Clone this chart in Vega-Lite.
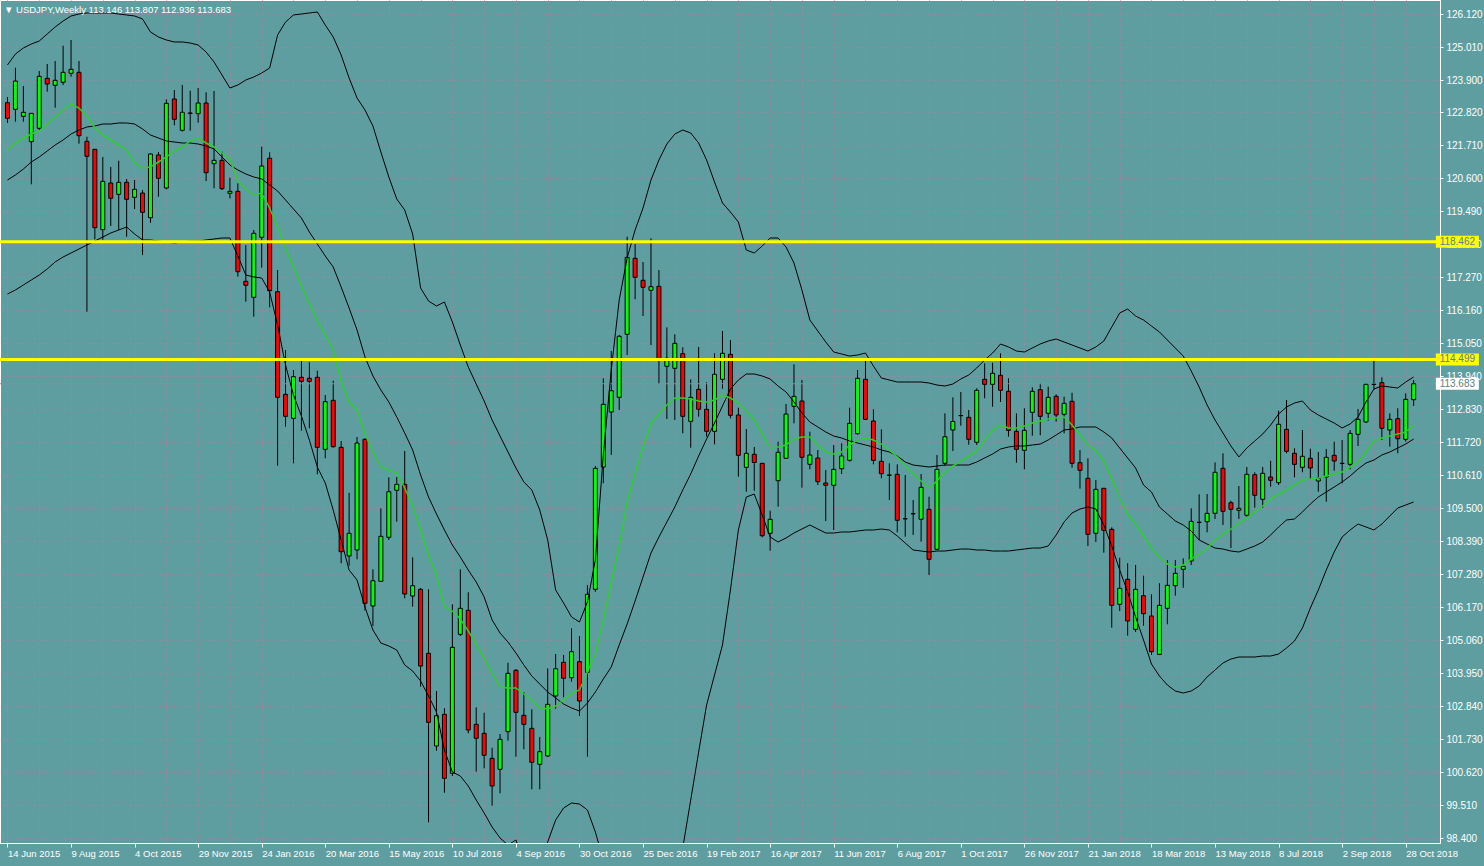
{
  "$schema": "https://vega.github.io/schema/vega-lite/v6.json",
  "width": 1440,
  "height": 843,
  "autosize": "none",
  "padding": {"left": 0, "top": 0, "right": 44, "bottom": 23},
  "background": "#5F9EA0",
  "title": {"text": "▼ USDJPY,Weekly  113.146 113.807 112.936 113.683", "anchor": "start", "frame": "group", "offset": -14, "dx": 4, "color": "#FFFFFF", "font": "Liberation Sans", "fontSize": 9.5, "fontWeight": "normal"},
  "config": {
    "view": {"stroke": "#FFFFFF", "strokeWidth": 1},
    "axis": {"labelFont": "Liberation Sans", "labelFontSize": 10, "labelColor": "#FFFFFF", "domainColor": "#FFFFFF", "tickColor": "#FFFFFF", "gridColor": "#8E8CA0", "gridDash": [3, 3], "gridWidth": 1, "gridOpacity": 1, "labelOverlap": false}
  },
  "datasets": {
    "levels": [
      {"p": 118.462, "t": "118.462", "k": "level"},
      {"p": 114.499, "t": "114.499", "k": "level"},
      {"p": 113.683, "t": "113.683", "k": "bid"}
    ],
    "candles": [
{"d":"2015-06-14","o":123.136,"h":123.329,"l":122.454,"c":122.612,"u":124.405,"m":120.536,"b":116.702,"g":121.546},
{"d":"2015-06-21","o":122.914,"h":124.314,"l":122.498,"c":123.866,"u":124.774,"m":120.705,"b":116.837,"g":121.781},
{"d":"2015-06-28","o":122.679,"h":123.698,"l":122.498,"c":122.814,"u":124.977,"m":120.906,"b":117.005,"g":121.949},
{"d":"2015-07-05","o":121.825,"h":122.790,"l":120.391,"c":122.780,"u":125.111,"m":121.142,"b":117.173,"g":122.083},
{"d":"2015-07-12","o":122.276,"h":124.202,"l":122.218,"c":124.024,"u":125.212,"m":121.311,"b":117.341,"g":122.184},
{"d":"2015-07-19","o":123.957,"h":124.438,"l":123.507,"c":123.765,"u":125.447,"m":121.512,"b":117.543,"g":122.420},
{"d":"2015-07-26","o":123.722,"h":124.539,"l":122.968,"c":123.890,"u":125.683,"m":121.714,"b":117.779,"g":122.656},
{"d":"2015-08-02","o":123.823,"h":125.054,"l":123.732,"c":124.159,"u":125.884,"m":121.882,"b":117.947,"g":122.891},
{"d":"2015-08-09","o":124.125,"h":125.246,"l":124.011,"c":124.260,"u":126.053,"m":122.083,"b":118.081,"g":123.092},
{"d":"2015-08-16","o":124.159,"h":124.539,"l":121.758,"c":122.026,"u":126.120,"m":122.218,"b":118.215,"g":122.958},
{"d":"2015-08-23","o":121.838,"h":121.993,"l":116.107,"c":121.334,"u":126.154,"m":122.320,"b":118.350,"g":122.689},
{"d":"2015-08-30","o":121.569,"h":121.579,"l":118.542,"c":118.932,"u":126.154,"m":122.353,"b":118.484,"g":122.286},
{"d":"2015-09-06","o":118.865,"h":121.311,"l":118.529,"c":120.492,"u":126.154,"m":122.420,"b":118.620,"g":122.050},
{"d":"2015-09-13","o":120.435,"h":120.974,"l":118.989,"c":119.921,"u":126.154,"m":122.420,"b":118.754,"g":121.882},
{"d":"2015-09-20","o":120.055,"h":121.185,"l":118.855,"c":120.459,"u":126.120,"m":122.454,"b":118.855,"g":121.714},
{"d":"2015-09-27","o":120.459,"h":120.570,"l":118.630,"c":119.887,"u":126.087,"m":122.454,"b":118.956,"g":121.546},
{"d":"2015-10-04","o":119.954,"h":120.536,"l":119.561,"c":120.223,"u":126.053,"m":122.420,"b":118.720,"g":121.108},
{"d":"2015-10-11","o":120.099,"h":120.200,"l":118.014,"c":119.450,"u":125.952,"m":122.252,"b":118.518,"g":120.940},
{"d":"2015-10-18","o":119.268,"h":121.435,"l":119.100,"c":121.411,"u":125.515,"m":122.050,"b":118.518,"g":120.974},
{"d":"2015-10-25","o":121.378,"h":121.479,"l":119.975,"c":120.594,"u":125.347,"m":121.949,"b":118.484,"g":121.142},
{"d":"2015-11-01","o":120.267,"h":123.251,"l":120.223,"c":123.116,"u":125.246,"m":121.848,"b":118.451,"g":121.311},
{"d":"2015-11-08","o":123.261,"h":123.564,"l":122.377,"c":122.578,"u":125.179,"m":121.815,"b":118.417,"g":121.512},
{"d":"2015-11-15","o":122.208,"h":123.732,"l":122.161,"c":122.814,"u":125.179,"m":121.781,"b":118.451,"g":121.647},
{"d":"2015-11-22","o":122.790,"h":123.540,"l":122.194,"c":122.780,"u":125.145,"m":121.781,"b":118.484,"g":121.848},
{"d":"2015-11-29","o":122.767,"h":123.631,"l":122.464,"c":123.126,"u":125.078,"m":121.747,"b":118.484,"g":121.949},
{"d":"2015-12-06","o":123.126,"h":123.487,"l":120.502,"c":120.782,"u":124.842,"m":121.680,"b":118.518,"g":121.781},
{"d":"2015-12-13","o":121.085,"h":123.530,"l":120.257,"c":121.199,"u":124.506,"m":121.579,"b":118.552,"g":121.647},
{"d":"2015-12-20","o":121.199,"h":121.489,"l":120.200,"c":120.243,"u":124.068,"m":121.311,"b":118.586,"g":121.445},
{"d":"2015-12-27","o":120.089,"h":120.614,"l":119.921,"c":120.156,"u":123.631,"m":121.041,"b":118.586,"g":121.243},
{"d":"2016-01-03","o":120.156,"h":120.425,"l":117.284,"c":117.452,"u":123.732,"m":120.873,"b":117.980,"g":120.502},
{"d":"2016-01-10","o":117.129,"h":118.350,"l":116.443,"c":116.995,"u":123.900,"m":120.738,"b":117.341,"g":120.233},
{"d":"2016-01-17","o":116.591,"h":118.855,"l":115.939,"c":118.744,"u":124.001,"m":120.638,"b":117.274,"g":120.032},
{"d":"2016-01-24","o":118.609,"h":121.657,"l":117.587,"c":121.007,"u":124.135,"m":120.570,"b":117.240,"g":120.099},
{"d":"2016-01-31","o":121.267,"h":121.469,"l":116.254,"c":116.813,"u":124.304,"m":120.368,"b":116.770,"g":119.595},
{"d":"2016-02-07","o":116.780,"h":117.509,"l":110.926,"c":113.227,"u":125.414,"m":120.166,"b":115.659,"g":118.956},
{"d":"2016-02-14","o":113.328,"h":114.818,"l":112.239,"c":112.588,"u":125.851,"m":119.864,"b":114.314,"g":118.249},
{"d":"2016-02-21","o":112.521,"h":114.146,"l":111.007,"c":113.921,"u":126.087,"m":119.561,"b":113.305,"g":117.611},
{"d":"2016-02-28","o":113.900,"h":114.515,"l":112.103,"c":113.765,"u":126.120,"m":119.258,"b":112.598,"g":116.971},
{"d":"2016-03-06","o":113.867,"h":114.405,"l":112.185,"c":113.765,"u":126.154,"m":118.788,"b":111.791,"g":116.365},
{"d":"2016-03-13","o":113.900,"h":114.122,"l":110.637,"c":111.545,"u":126.188,"m":118.383,"b":110.883,"g":115.793},
{"d":"2016-03-20","o":111.478,"h":113.305,"l":111.176,"c":113.080,"u":125.750,"m":117.980,"b":110.345,"g":115.323},
{"d":"2016-03-27","o":113.127,"h":113.785,"l":111.532,"c":111.566,"u":125.347,"m":117.611,"b":109.437,"g":114.818},
{"d":"2016-04-03","o":111.545,"h":111.757,"l":107.644,"c":108.034,"u":124.741,"m":116.938,"b":108.427,"g":113.775},
{"d":"2016-04-10","o":107.889,"h":110.018,"l":107.563,"c":108.653,"u":123.967,"m":116.231,"b":107.418,"g":113.070},
{"d":"2016-04-17","o":108.091,"h":111.892,"l":107.778,"c":111.690,"u":123.295,"m":115.491,"b":107.082,"g":112.800},
{"d":"2016-04-24","o":111.814,"h":111.848,"l":106.049,"c":106.298,"u":122.891,"m":114.583,"b":106.174,"g":111.992},
{"d":"2016-05-01","o":106.207,"h":107.442,"l":105.535,"c":107.058,"u":122.353,"m":113.944,"b":105.400,"g":111.388},
{"d":"2016-05-08","o":107.038,"h":109.494,"l":107.015,"c":108.552,"u":121.479,"m":113.473,"b":104.963,"g":110.883},
{"d":"2016-05-15","o":108.518,"h":110.536,"l":108.427,"c":110.052,"u":120.638,"m":113.070,"b":104.862,"g":110.782},
{"d":"2016-05-22","o":110.099,"h":110.547,"l":109.043,"c":110.301,"u":119.897,"m":112.565,"b":104.727,"g":110.681},
{"d":"2016-05-29","o":110.301,"h":111.421,"l":106.467,"c":106.611,"u":119.527,"m":112.026,"b":104.223,"g":110.177},
{"d":"2016-06-05","o":106.544,"h":107.845,"l":106.184,"c":106.890,"u":118.720,"m":111.455,"b":104.021,"g":109.571},
{"d":"2016-06-12","o":106.769,"h":106.813,"l":103.493,"c":104.189,"u":116.904,"m":110.614,"b":103.684,"g":108.764},
{"d":"2016-06-19","o":104.616,"h":106.769,"l":98.932,"c":102.296,"u":116.466,"m":109.874,"b":103.180,"g":107.923},
{"d":"2016-06-26","o":101.498,"h":103.348,"l":101.340,"c":102.517,"u":116.298,"m":109.302,"b":102.642,"g":107.250},
{"d":"2016-07-03","o":102.564,"h":102.767,"l":99.927,"c":100.412,"u":116.433,"m":108.764,"b":101.364,"g":106.174},
{"d":"2016-07-10","o":100.580,"h":106.264,"l":100.489,"c":104.818,"u":115.760,"m":108.259,"b":100.624,"g":106.039},
{"d":"2016-07-17","o":105.255,"h":107.442,"l":105.198,"c":106.130,"u":114.987,"m":107.856,"b":100.489,"g":105.770},
{"d":"2016-07-24","o":106.063,"h":106.669,"l":101.926,"c":102.037,"u":114.247,"m":107.418,"b":100.153,"g":105.366},
{"d":"2016-07-31","o":102.228,"h":102.800,"l":100.634,"c":101.758,"u":113.674,"m":107.015,"b":99.682,"g":104.929},
{"d":"2016-08-07","o":101.926,"h":102.618,"l":100.748,"c":101.186,"u":113.103,"m":106.511,"b":99.245,"g":104.458},
{"d":"2016-08-14","o":101.085,"h":101.441,"l":99.490,"c":100.153,"u":112.464,"m":105.737,"b":98.774,"g":103.954},
{"d":"2016-08-21","o":100.714,"h":101.902,"l":99.907,"c":101.724,"u":111.925,"m":105.299,"b":98.404,"g":103.483},
{"d":"2016-08-28","o":101.980,"h":104.300,"l":101.676,"c":103.944,"u":111.388,"m":104.997,"b":98.169,"g":103.449},
{"d":"2016-09-04","o":104.045,"h":104.088,"l":101.139,"c":102.632,"u":110.849,"m":104.626,"b":98.337,"g":103.449},
{"d":"2016-09-11","o":102.531,"h":103.305,"l":101.387,"c":102.228,"u":110.379,"m":104.223,"b":97.597,"g":103.247},
{"d":"2016-09-18","o":102.094,"h":102.733,"l":100.042,"c":100.950,"u":110.109,"m":103.853,"b":97.328,"g":103.046},
{"d":"2016-09-25","o":100.882,"h":101.802,"l":100.042,"c":101.307,"u":109.437,"m":103.583,"b":97.597,"g":102.777},
{"d":"2016-10-02","o":101.162,"h":104.112,"l":101.128,"c":102.901,"u":108.427,"m":103.315,"b":98.270,"g":102.743},
{"d":"2016-10-09","o":103.180,"h":104.592,"l":102.753,"c":104.098,"u":106.746,"m":103.113,"b":99.009,"g":102.844},
{"d":"2016-10-16","o":104.314,"h":104.559,"l":103.136,"c":103.776,"u":106.308,"m":102.911,"b":99.413,"g":103.046},
{"d":"2016-10-23","o":103.796,"h":105.458,"l":103.661,"c":104.670,"u":105.838,"m":102.777,"b":99.581,"g":103.281},
{"d":"2016-10-30","o":104.334,"h":105.198,"l":102.507,"c":103.012,"u":105.670,"m":102.675,"b":99.547,"g":103.382},
{"d":"2016-11-06","o":103.978,"h":106.914,"l":101.139,"c":106.601,"u":106.342,"m":102.945,"b":99.346,"g":103.987},
{"d":"2016-11-13","o":106.769,"h":110.916,"l":106.689,"c":110.839,"u":107.755,"m":103.315,"b":98.606,"g":104.592},
{"d":"2016-11-20","o":110.883,"h":113.867,"l":110.335,"c":112.992,"u":111.287,"m":103.752,"b":97.664,"g":105.737},
{"d":"2016-11-27","o":112.733,"h":114.784,"l":111.287,"c":113.449,"u":114.146,"m":104.156,"b":96.655,"g":107.015},
{"d":"2016-12-04","o":113.227,"h":115.323,"l":112.800,"c":115.279,"u":116.500,"m":104.896,"b":95.477,"g":108.225},
{"d":"2016-12-11","o":115.346,"h":118.630,"l":114.650,"c":117.936,"u":117.913,"m":105.602,"b":94.636,"g":109.706},
{"d":"2016-12-18","o":117.903,"h":118.383,"l":116.524,"c":117.263,"u":118.855,"m":106.375,"b":93.964,"g":110.681},
{"d":"2016-12-25","o":117.163,"h":117.779,"l":115.962,"c":116.927,"u":119.595,"m":107.183,"b":93.627,"g":111.556},
{"d":"2017-01-01","o":116.827,"h":118.576,"l":114.987,"c":116.948,"u":120.536,"m":107.990,"b":93.796,"g":112.363},
{"d":"2017-01-08","o":116.961,"h":117.509,"l":113.674,"c":114.505,"u":121.209,"m":108.529,"b":94.468,"g":112.665},
{"d":"2017-01-15","o":114.270,"h":115.581,"l":112.497,"c":114.539,"u":121.747,"m":109.033,"b":95.645,"g":112.969},
{"d":"2017-01-22","o":114.203,"h":115.346,"l":112.464,"c":115.044,"u":122.083,"m":109.538,"b":96.823,"g":113.204},
{"d":"2017-01-29","o":114.694,"h":114.909,"l":112.016,"c":112.588,"u":122.218,"m":110.109,"b":98.068,"g":113.204},
{"d":"2017-02-05","o":112.420,"h":113.833,"l":111.532,"c":113.227,"u":122.117,"m":110.647,"b":99.682,"g":113.170},
{"d":"2017-02-12","o":113.496,"h":114.920,"l":112.575,"c":112.824,"u":121.781,"m":111.253,"b":101.297,"g":113.103},
{"d":"2017-02-19","o":112.824,"h":113.732,"l":111.902,"c":112.083,"u":121.209,"m":111.824,"b":102.878,"g":113.070},
{"d":"2017-02-26","o":112.083,"h":114.707,"l":111.646,"c":114.001,"u":120.469,"m":112.363,"b":103.887,"g":113.137},
{"d":"2017-03-05","o":113.833,"h":115.457,"l":113.516,"c":114.707,"u":119.763,"m":112.935,"b":104.896,"g":113.305},
{"d":"2017-03-12","o":114.673,"h":115.155,"l":112.521,"c":112.622,"u":119.460,"m":113.506,"b":106.746,"g":113.204},
{"d":"2017-03-19","o":112.632,"h":112.878,"l":110.557,"c":111.277,"u":119.124,"m":113.809,"b":108.764,"g":113.036},
{"d":"2017-03-26","o":110.872,"h":112.161,"l":110.052,"c":111.344,"u":118.182,"m":114.011,"b":109.874,"g":112.766},
{"d":"2017-04-02","o":111.310,"h":111.556,"l":110.085,"c":111.034,"u":118.081,"m":114.011,"b":109.974,"g":112.464},
{"d":"2017-04-09","o":111.007,"h":111.017,"l":108.518,"c":108.572,"u":118.316,"m":113.944,"b":109.269,"g":111.992},
{"d":"2017-04-16","o":108.653,"h":109.413,"l":108.067,"c":109.124,"u":118.586,"m":113.843,"b":108.529,"g":111.522},
{"d":"2017-04-23","o":110.422,"h":111.734,"l":109.548,"c":111.378,"u":118.586,"m":113.607,"b":108.360,"g":111.556},
{"d":"2017-04-30","o":111.176,"h":113.002,"l":111.152,"c":112.665,"u":118.283,"m":113.406,"b":108.495,"g":111.623},
{"d":"2017-05-07","o":112.925,"h":114.337,"l":112.353,"c":113.261,"u":117.745,"m":113.070,"b":108.663,"g":111.824},
{"d":"2017-05-14","o":113.103,"h":113.809,"l":110.187,"c":111.209,"u":116.837,"m":112.699,"b":108.797,"g":111.892},
{"d":"2017-05-21","o":110.973,"h":112.070,"l":110.805,"c":111.287,"u":115.827,"m":112.397,"b":108.932,"g":111.892},
{"d":"2017-05-28","o":111.186,"h":111.455,"l":110.278,"c":110.389,"u":115.457,"m":112.229,"b":108.797,"g":111.623},
{"d":"2017-06-04","o":110.345,"h":110.782,"l":109.066,"c":110.268,"u":115.088,"m":112.060,"b":108.663,"g":111.388},
{"d":"2017-06-11","o":110.268,"h":111.623,"l":108.764,"c":110.805,"u":114.751,"m":111.925,"b":108.663,"g":111.320},
{"d":"2017-06-18","o":110.825,"h":111.680,"l":110.647,"c":111.253,"u":114.684,"m":111.858,"b":108.697,"g":111.388},
{"d":"2017-06-25","o":111.108,"h":112.878,"l":111.061,"c":112.353,"u":114.616,"m":111.757,"b":108.697,"g":111.623},
{"d":"2017-07-02","o":112.003,"h":114.146,"l":111.976,"c":113.867,"u":114.650,"m":111.690,"b":108.730,"g":111.791},
{"d":"2017-07-09","o":113.833,"h":114.482,"l":112.464,"c":112.487,"u":114.717,"m":111.623,"b":108.764,"g":111.858},
{"d":"2017-07-16","o":112.430,"h":112.824,"l":110.973,"c":111.108,"u":114.280,"m":111.556,"b":108.764,"g":111.791},
{"d":"2017-07-23","o":111.074,"h":112.151,"l":110.503,"c":110.658,"u":113.877,"m":111.455,"b":108.797,"g":111.656},
{"d":"2017-07-30","o":110.614,"h":111.007,"l":109.773,"c":110.604,"u":113.809,"m":111.388,"b":108.764,"g":111.455},
{"d":"2017-08-06","o":110.637,"h":110.973,"l":108.687,"c":109.090,"u":113.742,"m":111.253,"b":108.562,"g":111.220},
{"d":"2017-08-13","o":109.144,"h":110.614,"l":108.539,"c":109.137,"u":113.742,"m":111.051,"b":108.326,"g":110.916},
{"d":"2017-08-20","o":109.306,"h":109.773,"l":108.596,"c":109.316,"u":113.742,"m":110.950,"b":108.091,"g":110.647},
{"d":"2017-08-27","o":109.124,"h":110.647,"l":108.370,"c":110.200,"u":113.742,"m":110.916,"b":108.057,"g":110.412},
{"d":"2017-09-03","o":109.460,"h":109.884,"l":107.250,"c":107.778,"u":113.708,"m":110.883,"b":108.024,"g":110.177},
{"d":"2017-09-10","o":108.114,"h":111.287,"l":108.091,"c":110.805,"u":113.641,"m":110.916,"b":108.057,"g":110.412},
{"d":"2017-09-17","o":111.007,"h":112.689,"l":110.916,"c":111.902,"u":113.607,"m":110.950,"b":108.057,"g":110.714},
{"d":"2017-09-24","o":112.127,"h":113.227,"l":111.421,"c":112.414,"u":113.674,"m":110.950,"b":108.091,"g":110.916},
{"d":"2017-10-01","o":112.608,"h":113.406,"l":112.272,"c":112.615,"u":113.843,"m":110.950,"b":108.124,"g":111.084},
{"d":"2017-10-08","o":112.554,"h":112.800,"l":111.633,"c":111.814,"u":113.978,"m":110.950,"b":108.124,"g":111.253},
{"d":"2017-10-15","o":111.714,"h":113.530,"l":111.623,"c":113.463,"u":114.213,"m":111.051,"b":108.091,"g":111.421},
{"d":"2017-10-22","o":113.833,"h":114.371,"l":113.194,"c":113.664,"u":114.482,"m":111.186,"b":108.091,"g":111.791},
{"d":"2017-10-29","o":113.664,"h":114.391,"l":112.912,"c":114.035,"u":114.717,"m":111.320,"b":108.057,"g":112.127},
{"d":"2017-11-05","o":113.968,"h":114.707,"l":113.070,"c":113.463,"u":115.020,"m":111.488,"b":108.057,"g":112.296},
{"d":"2017-11-12","o":113.429,"h":113.867,"l":111.902,"c":112.117,"u":114.920,"m":111.556,"b":108.057,"g":112.195},
{"d":"2017-11-19","o":112.083,"h":112.689,"l":111.027,"c":111.478,"u":114.784,"m":111.589,"b":108.091,"g":112.195},
{"d":"2017-11-26","o":111.445,"h":112.858,"l":110.805,"c":112.117,"u":114.751,"m":111.589,"b":108.124,"g":112.262},
{"d":"2017-12-03","o":112.723,"h":113.563,"l":111.935,"c":113.429,"u":114.886,"m":111.623,"b":108.158,"g":112.363},
{"d":"2017-12-10","o":113.483,"h":113.698,"l":111.949,"c":112.588,"u":115.020,"m":111.656,"b":108.158,"g":112.430},
{"d":"2017-12-17","o":112.689,"h":113.584,"l":112.440,"c":113.227,"u":115.121,"m":111.791,"b":108.225,"g":112.497},
{"d":"2017-12-24","o":113.261,"h":113.328,"l":112.407,"c":112.632,"u":115.188,"m":111.959,"b":108.596,"g":112.531},
{"d":"2017-12-31","o":112.655,"h":113.248,"l":112.016,"c":113.026,"u":115.088,"m":112.127,"b":109.033,"g":112.565},
{"d":"2018-01-07","o":113.093,"h":113.382,"l":110.859,"c":111.007,"u":114.987,"m":112.161,"b":109.336,"g":112.296},
{"d":"2018-01-14","o":111.027,"h":111.455,"l":110.153,"c":110.772,"u":114.886,"m":112.229,"b":109.470,"g":111.959},
{"d":"2018-01-21","o":110.503,"h":111.176,"l":108.225,"c":108.619,"u":114.784,"m":112.229,"b":109.538,"g":111.623},
{"d":"2018-01-28","o":108.653,"h":110.446,"l":108.360,"c":110.133,"u":114.920,"m":112.229,"b":109.470,"g":111.421},
{"d":"2018-02-04","o":110.167,"h":110.177,"l":108.000,"c":108.754,"u":115.121,"m":112.060,"b":108.932,"g":111.084},
{"d":"2018-02-11","o":108.787,"h":108.854,"l":105.478,"c":106.231,"u":115.592,"m":111.858,"b":108.225,"g":110.479},
{"d":"2018-02-18","o":106.264,"h":107.832,"l":106.039,"c":106.803,"u":116.063,"m":111.522,"b":107.418,"g":109.840},
{"d":"2018-02-25","o":107.105,"h":107.644,"l":105.208,"c":105.703,"u":116.197,"m":111.186,"b":106.679,"g":109.302},
{"d":"2018-03-04","o":105.424,"h":107.587,"l":105.333,"c":106.769,"u":115.962,"m":110.849,"b":105.838,"g":108.965},
{"d":"2018-03-11","o":106.554,"h":107.226,"l":105.545,"c":105.949,"u":115.827,"m":110.278,"b":105.064,"g":108.562},
{"d":"2018-03-18","o":105.871,"h":106.601,"l":104.559,"c":104.670,"u":115.625,"m":110.042,"b":104.256,"g":108.158},
{"d":"2018-03-25","o":104.582,"h":106.971,"l":104.559,"c":106.231,"u":115.424,"m":109.538,"b":103.853,"g":107.856},
{"d":"2018-04-01","o":106.130,"h":107.755,"l":105.592,"c":106.904,"u":115.155,"m":109.302,"b":103.550,"g":107.620},
{"d":"2018-04-08","o":106.890,"h":107.755,"l":106.554,"c":107.307,"u":114.886,"m":109.066,"b":103.348,"g":107.519},
{"d":"2018-04-15","o":107.442,"h":107.812,"l":106.823,"c":107.543,"u":114.616,"m":108.932,"b":103.281,"g":107.587},
{"d":"2018-04-22","o":107.721,"h":109.494,"l":107.587,"c":109.056,"u":114.112,"m":108.730,"b":103.348,"g":107.789},
{"d":"2018-04-29","o":109.016,"h":109.964,"l":108.427,"c":109.026,"u":113.574,"m":108.427,"b":103.516,"g":107.957},
{"d":"2018-05-06","o":109.043,"h":109.975,"l":108.687,"c":109.326,"u":112.969,"m":108.292,"b":103.820,"g":108.158},
{"d":"2018-05-13","o":109.326,"h":111.041,"l":109.134,"c":110.705,"u":112.464,"m":108.158,"b":104.055,"g":108.427},
{"d":"2018-05-20","o":110.839,"h":111.344,"l":108.932,"c":109.393,"u":112.026,"m":108.124,"b":104.290,"g":108.629},
{"d":"2018-05-27","o":109.682,"h":109.749,"l":108.158,"c":109.460,"u":111.589,"m":108.057,"b":104.424,"g":108.797},
{"d":"2018-06-03","o":109.427,"h":110.244,"l":109.134,"c":109.494,"u":111.220,"m":108.024,"b":104.492,"g":108.999},
{"d":"2018-06-10","o":109.259,"h":110.883,"l":109.212,"c":110.637,"u":111.522,"m":108.124,"b":104.492,"g":109.168},
{"d":"2018-06-17","o":110.624,"h":110.705,"l":109.514,"c":109.931,"u":111.757,"m":108.225,"b":104.492,"g":109.370},
{"d":"2018-06-24","o":109.796,"h":110.883,"l":109.514,"c":110.671,"u":111.992,"m":108.360,"b":104.525,"g":109.571},
{"d":"2018-07-01","o":110.547,"h":111.094,"l":110.221,"c":110.436,"u":112.296,"m":108.596,"b":104.525,"g":109.807},
{"d":"2018-07-08","o":110.355,"h":112.776,"l":110.278,"c":112.319,"u":112.665,"m":108.865,"b":104.592,"g":109.974},
{"d":"2018-07-15","o":112.151,"h":113.137,"l":111.344,"c":111.411,"u":112.902,"m":109.100,"b":104.795,"g":110.109},
{"d":"2018-07-22","o":111.344,"h":111.512,"l":110.536,"c":110.973,"u":113.036,"m":109.134,"b":105.030,"g":110.278},
{"d":"2018-07-29","o":110.872,"h":112.127,"l":110.705,"c":111.243,"u":113.103,"m":109.370,"b":105.468,"g":110.446},
{"d":"2018-08-05","o":111.176,"h":111.498,"l":110.469,"c":110.849,"u":112.800,"m":109.638,"b":106.140,"g":110.479},
{"d":"2018-08-12","o":110.412,"h":111.388,"l":110.052,"c":110.503,"u":112.632,"m":109.874,"b":106.746,"g":110.513},
{"d":"2018-08-19","o":110.547,"h":111.488,"l":109.716,"c":111.209,"u":112.497,"m":110.042,"b":107.418,"g":110.580},
{"d":"2018-08-26","o":111.277,"h":111.734,"l":110.758,"c":111.084,"u":112.363,"m":110.211,"b":108.024,"g":110.647},
{"d":"2018-09-02","o":111.010,"h":111.791,"l":110.335,"c":111.000,"u":112.195,"m":110.379,"b":108.529,"g":110.714},
{"d":"2018-09-09","o":110.973,"h":112.127,"l":110.805,"c":112.016,"u":112.329,"m":110.580,"b":108.764,"g":110.883},
{"d":"2018-09-16","o":111.982,"h":112.834,"l":111.589,"c":112.487,"u":112.565,"m":110.815,"b":108.965,"g":111.051},
{"d":"2018-09-23","o":112.397,"h":113.691,"l":112.363,"c":113.664,"u":113.070,"m":111.017,"b":108.865,"g":111.388},
{"d":"2018-09-30","o":113.658,"h":114.539,"l":113.473,"c":113.668,"u":113.506,"m":111.118,"b":108.764,"g":111.757},
{"d":"2018-10-07","o":113.718,"h":113.900,"l":111.791,"c":112.185,"u":113.607,"m":111.287,"b":108.965,"g":111.858},
{"d":"2018-10-14","o":112.127,"h":112.689,"l":111.566,"c":112.487,"u":113.574,"m":111.388,"b":109.235,"g":111.925},
{"d":"2018-10-21","o":112.507,"h":112.858,"l":111.344,"c":111.834,"u":113.540,"m":111.522,"b":109.504,"g":111.992},
{"d":"2018-10-28","o":111.814,"h":113.362,"l":111.734,"c":113.160,"u":113.742,"m":111.656,"b":109.604,"g":112.060},
{"d":"2018-11-04","o":113.146,"h":113.807,"l":112.936,"c":113.683,"u":113.911,"m":111.824,"b":109.706,"g":112.296}
    ]
  },
  "layer": [
    {
      "data": {"name": "candles"},
      "mark": {"type": "rule", "color": "#000000", "strokeWidth": 1},
      "encoding": {
        "x": {
          "field": "d", "type": "temporal", "title": null,
          "scale": {"type": "utc", "nice": false, "domain": [{"year": 2015, "month": 6, "date": 11, "hours": 19, "minutes": 30, "utc": true}, {"year": 2018, "month": 11, "date": 22, "hours": 19, "minutes": 30, "utc": true}]},
          "axis": {
            "orient": "bottom",
            "grid": true,
            "domain": true,
            "tickCount": 200,
            "tickSize": 4,
            "labelPadding": 1,
            "labelAlign": "left",
            "labelDx": -3,
            "labelFontSize": 9.5,
            "labelOverlap": false,
            "labelBound": false,
            "labelFlush": false,
            "tickOpacity": {"condition": {"test": "round((toNumber(datum.value) - 1434240000000) / 604800000) % 8 != 0", "value": 0}, "value": 1},
            "labelExpr": "round((toNumber(datum.value) - 1434240000000) / 604800000) % 8 == 0 ? utcFormat(datum.value, '%-d %b %Y') : ''",
            "values": [
              {"year": 2015, "month": 6, "date": 14, "utc": true},
              {"year": 2015, "month": 7, "date": 12, "utc": true},
              {"year": 2015, "month": 8, "date": 9, "utc": true},
              {"year": 2015, "month": 9, "date": 6, "utc": true},
              {"year": 2015, "month": 10, "date": 4, "utc": true},
              {"year": 2015, "month": 11, "date": 1, "utc": true},
              {"year": 2015, "month": 11, "date": 29, "utc": true},
              {"year": 2015, "month": 12, "date": 27, "utc": true},
              {"year": 2016, "month": 1, "date": 24, "utc": true},
              {"year": 2016, "month": 2, "date": 21, "utc": true},
              {"year": 2016, "month": 3, "date": 20, "utc": true},
              {"year": 2016, "month": 4, "date": 17, "utc": true},
              {"year": 2016, "month": 5, "date": 15, "utc": true},
              {"year": 2016, "month": 6, "date": 12, "utc": true},
              {"year": 2016, "month": 7, "date": 10, "utc": true},
              {"year": 2016, "month": 8, "date": 7, "utc": true},
              {"year": 2016, "month": 9, "date": 4, "utc": true},
              {"year": 2016, "month": 10, "date": 2, "utc": true},
              {"year": 2016, "month": 10, "date": 30, "utc": true},
              {"year": 2016, "month": 11, "date": 27, "utc": true},
              {"year": 2016, "month": 12, "date": 25, "utc": true},
              {"year": 2017, "month": 1, "date": 22, "utc": true},
              {"year": 2017, "month": 2, "date": 19, "utc": true},
              {"year": 2017, "month": 3, "date": 19, "utc": true},
              {"year": 2017, "month": 4, "date": 16, "utc": true},
              {"year": 2017, "month": 5, "date": 14, "utc": true},
              {"year": 2017, "month": 6, "date": 11, "utc": true},
              {"year": 2017, "month": 7, "date": 9, "utc": true},
              {"year": 2017, "month": 8, "date": 6, "utc": true},
              {"year": 2017, "month": 9, "date": 3, "utc": true},
              {"year": 2017, "month": 10, "date": 1, "utc": true},
              {"year": 2017, "month": 10, "date": 29, "utc": true},
              {"year": 2017, "month": 11, "date": 26, "utc": true},
              {"year": 2017, "month": 12, "date": 24, "utc": true},
              {"year": 2018, "month": 1, "date": 21, "utc": true},
              {"year": 2018, "month": 2, "date": 18, "utc": true},
              {"year": 2018, "month": 3, "date": 18, "utc": true},
              {"year": 2018, "month": 4, "date": 15, "utc": true},
              {"year": 2018, "month": 5, "date": 13, "utc": true},
              {"year": 2018, "month": 6, "date": 10, "utc": true},
              {"year": 2018, "month": 7, "date": 8, "utc": true},
              {"year": 2018, "month": 8, "date": 5, "utc": true},
              {"year": 2018, "month": 9, "date": 2, "utc": true},
              {"year": 2018, "month": 9, "date": 30, "utc": true},
              {"year": 2018, "month": 10, "date": 28, "utc": true}
            ]
          }
        },
        "y": {
          "field": "l", "type": "quantitative", "title": null,
          "scale": {"domain": [98.236, 126.591], "zero": false, "nice": false},
          "axis": {
            "orient": "right",
            "grid": true,
            "domain": true,
            "format": ".3f",
            "tickCount": 200,
            "tickSize": 3,
            "labelPadding": 3,
            "labelOverlap": false,
            "labelBound": false,
            "labelFlush": false,
            "values": [98.4, 99.51, 100.62, 101.73, 102.84, 103.95, 105.06, 106.17, 107.28, 108.39, 109.5, 110.61, 111.72, 112.83, 113.94, 115.05, 116.16, 117.27, 118.38, 119.49, 120.6, 121.71, 122.82, 123.9, 125.01, 126.12]
          }
        },
        "y2": {"field": "h"}
      }
    },
    {
      "data": {"name": "levels"},
      "transform": [{"filter": "datum.k == 'bid'"}],
      "mark": {"type": "rule", "color": "#8E8CA0", "strokeWidth": 1},
      "encoding": {
        "y": {"field": "p", "type": "quantitative", "title": null}
      }
    },
    {
      "data": {"name": "candles"},
      "mark": {"type": "bar", "width": 4, "stroke": "#000000", "strokeWidth": 1},
      "encoding": {
        "x": {"field": "d", "type": "temporal", "title": null},
        "y": {"field": "o", "type": "quantitative", "title": null},
        "y2": {"field": "c"},
        "fill": {"condition": {"test": "datum.c >= datum.o", "value": "#00FF00"}, "value": "#FF0000"}
      }
    },
    {
      "data": {"name": "candles"},
      "mark": {"type": "line", "color": "#000000", "strokeWidth": 1, "clip": true},
      "encoding": {
        "x": {"field": "d", "type": "temporal", "title": null},
        "y": {"field": "u", "type": "quantitative", "title": null}
      }
    },
    {
      "data": {"name": "candles"},
      "mark": {"type": "line", "color": "#000000", "strokeWidth": 1, "clip": true},
      "encoding": {
        "x": {"field": "d", "type": "temporal", "title": null},
        "y": {"field": "m", "type": "quantitative", "title": null}
      }
    },
    {
      "data": {"name": "candles"},
      "mark": {"type": "line", "color": "#000000", "strokeWidth": 1, "clip": true},
      "encoding": {
        "x": {"field": "d", "type": "temporal", "title": null},
        "y": {"field": "b", "type": "quantitative", "title": null}
      }
    },
    {
      "data": {"name": "candles"},
      "mark": {"type": "line", "color": "#32CD32", "strokeWidth": 1.5, "clip": true},
      "encoding": {
        "x": {"field": "d", "type": "temporal", "title": null},
        "y": {"field": "g", "type": "quantitative", "title": null}
      }
    },
    {
      "data": {"name": "levels"},
      "transform": [{"filter": "datum.k == 'level'"}],
      "mark": {"type": "rule", "color": "#FFFF00", "strokeWidth": 3},
      "encoding": {
        "y": {"field": "p", "type": "quantitative", "title": null}
      }
    },
    {
      "data": {"name": "levels"},
      "mark": {"type": "tick", "orient": "horizontal", "size": 43, "thickness": 12, "opacity": 1},
      "encoding": {
        "x": {"datum": {"year": 2018, "month": 12, "date": 12, "hours": 12, "utc": true}, "type": "temporal"},
        "y": {"field": "p", "type": "quantitative", "title": null},
        "color": {"condition": {"test": "datum.k == 'bid'", "value": "#FFFFFF"}, "value": "#FFFF00"}
      }
    },
    {
      "data": {"name": "levels"},
      "mark": {"type": "text", "align": "center", "baseline": "middle", "font": "Liberation Sans", "fontSize": 10, "color": "#5F7F80"},
      "encoding": {
        "x": {"datum": {"year": 2018, "month": 12, "date": 12, "hours": 12, "utc": true}, "type": "temporal"},
        "y": {"field": "p", "type": "quantitative", "title": null},
        "text": {"field": "t"}
      }
    }
  ]
}
